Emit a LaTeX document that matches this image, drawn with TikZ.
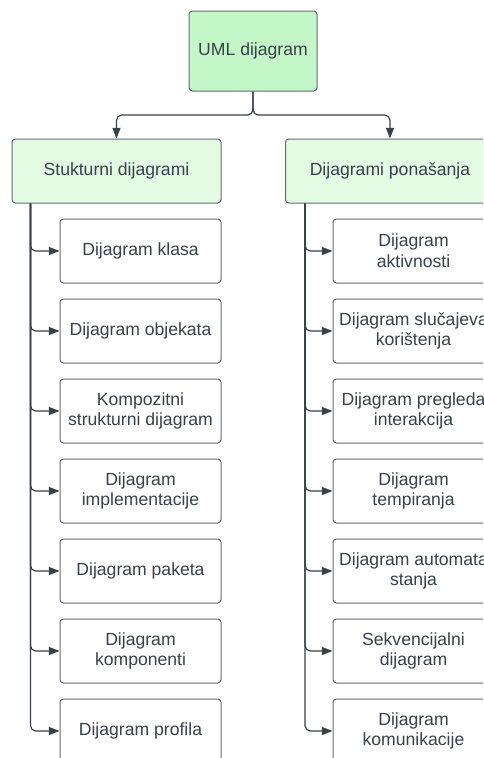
\documentclass[tikz,border=0pt]{standalone}
\usepackage{fontspec}
\setmainfont{Liberation Sans}
\usetikzlibrary{arrows.meta}

\definecolor{txtgray}{HTML}{3A414A}
\definecolor{boxgray}{HTML}{646A72}
\definecolor{rootgreen}{HTML}{C3F7C8}
\definecolor{groupgreen}{HTML}{E3FAE3}

\tikzset{every picture/.style={line width=0.75pt}}
\tikzset{
  box/.style={draw=boxgray, rounded corners=2.5pt, align=center, text=txtgray,
    font=\fontsize{13.2}{15.5}\selectfont, inner sep=0pt},
  rootbox/.style={box, fill=rootgreen, minimum width=96pt, minimum height=60pt},
  groupbox/.style={box, fill=groupgreen, minimum width=156.75pt, minimum height=48pt},
  leafbox/.style={box, fill=white, minimum width=120.75pt, minimum height=48pt},
  link/.style={draw=txtgray, line width=0.9pt, rounded corners=4pt,
    -{Triangle[length=8pt,width=6pt]}}
}

\begin{document}
\begin{tikzpicture}[x=0.75pt,y=0.75pt,yscale=-1]

\useasboundingbox (0,0) rectangle (483,758);
\clip (0,0) rectangle (483,758);

% root and the two groups
\node [rootbox] (uml) at (253,51) {UML dijagram};
\node [groupbox] (struk) at (116.5,171) {Stukturni dijagrami};
\node [groupbox] (pon) at (390,171) {Dijagrami ponašanja};

\coordinate (split) at (253,115);
\draw [link] (uml.south) -- (split) -| (struk.north);
\draw [link] (uml.south) -- (split) -| (pon.north);

% structural diagrams
\node [leafbox] (klasa) at (140.5,251) {Dijagram klasa};
\node [leafbox] (objekt) at (140.5,331) {Dijagram objekata};
\node [leafbox] (kompoz) at (140.5,411) {Kompozitni\\strukturni dijagram};
\node [leafbox] (impl) at (140.5,491) {Dijagram\\implementacije};
\node [leafbox] (paket) at (140.5,571) {Dijagram paketa};
\node [leafbox] (kompon) at (140.5,651) {Dijagram\\komponenti};
\node [leafbox] (profil) at (140.5,731) {Dijagram profila};

% behaviour diagrams
\node [leafbox] (aktiv) at (413.5,251) {Dijagram\\aktivnosti};
\node [leafbox] (slucaj) at (413.5,331) {Dijagram slučajeva\\korištenja};
\node [leafbox] (pregled) at (413.5,411) {Dijagram pregleda\\interakcija};
\node [leafbox] (tempir) at (413.5,491) {Dijagram\\tempiranja};
\node [leafbox] (automat) at (413.5,571) {Dijagram automata\\stanja};
\node [leafbox] (sekv) at (413.5,651) {Sekvencijalni\\dijagram};
\node [leafbox] (komun) at (413.5,731) {Dijagram\\komunikacije};

\coordinate (trunkS) at ([xshift=14.25pt]struk.south west);
\coordinate (trunkP) at ([xshift=15pt]pon.south west);

\foreach \leaf in {klasa,objekt,kompoz,impl,paket,kompon,profil}
  \draw [link] (trunkS) |- (\leaf.west);
\foreach \leaf in {aktiv,slucaj,pregled,tempir,automat,sekv,komun}
  \draw [link] (trunkP) |- (\leaf.west);

\end{tikzpicture}
\end{document}
